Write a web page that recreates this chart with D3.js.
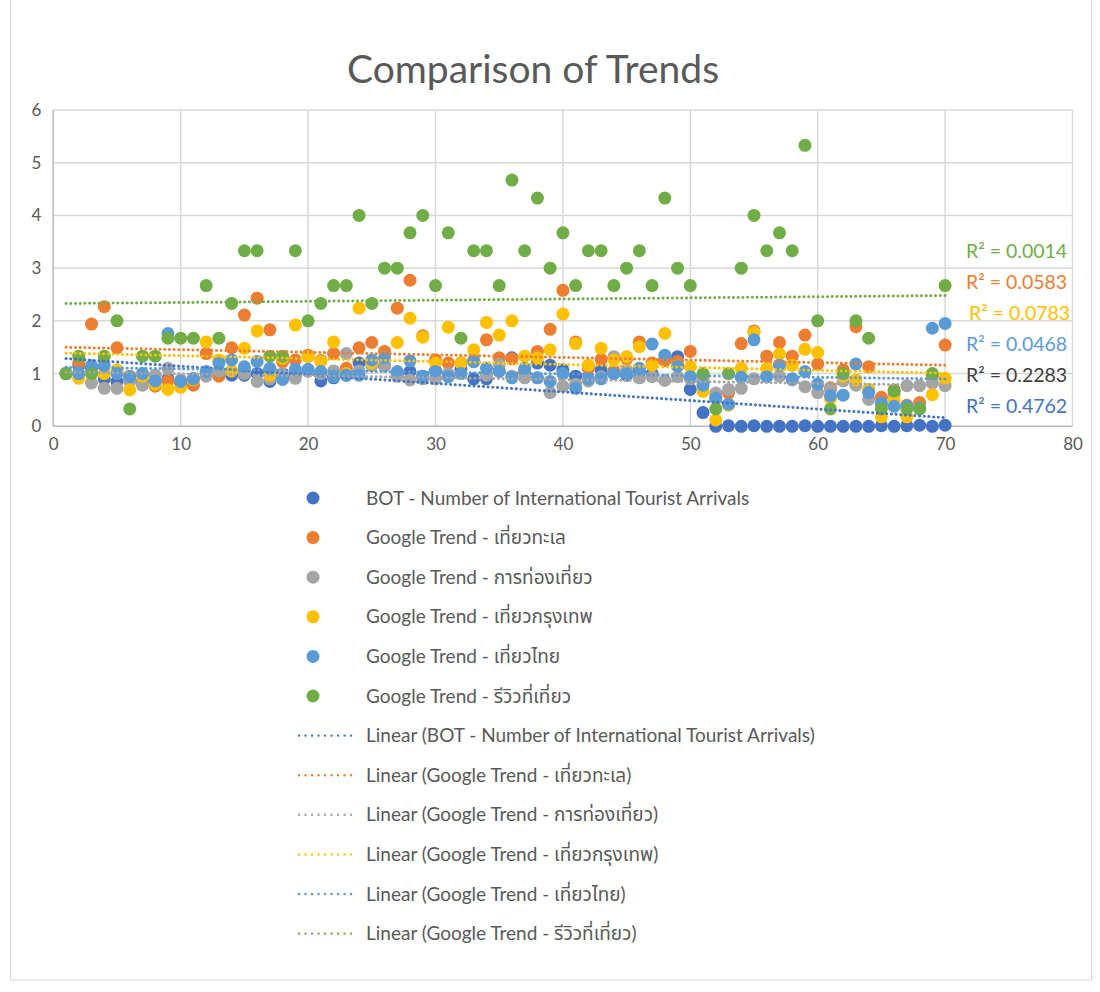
<!DOCTYPE html>
<html>
<head>
<meta charset="utf-8">
<script src="https://cdn.jsdelivr.net/npm/d3@7"></script>
<style>
  body { margin: 0; background: #fff; }
  svg { display: block; }
  text { font-family: Lato, "Noto Sans Thai", "Noto Sans", sans-serif; }
</style>
</head>
<body>
<svg id="chart" width="1100" height="992"></svg>
<script>
// ---- data ----
const chartTitle = "Comparison of Trends";
const xTickValues = [0, 10, 20, 30, 40, 50, 60, 70, 80];
const yTickValues = [0, 1, 2, 3, 4, 5, 6];
const periods = d3.range(1, 71);

const seriesLabels = [
  "BOT - Number of International Tourist Arrivals",
  "Google Trend - เที่ยวทะเล",
  "Google Trend - การท่องเที่ยว",
  "Google Trend - เที่ยวกรุงเทพ",
  "Google Trend - เที่ยวไทย",
  "Google Trend - รีวิวที่เที่ยว"
];
const seriesColors = ["#4472C4", "#ED7D31", "#A5A5A5", "#FFC000", "#5B9BD5", "#70AD47"];
const rSquaredText = ["R² = 0.4762", "R² = 0.0583", "R² = 0.2283", "R² = 0.0783", "R² = 0.0468", "R² = 0.0014"];

const botArrivals = [
  1.0, 1.15, 1.1, 0.9, 0.85, 0.87, 0.85, 0.85, 0.9, 0.85,
  0.9, 1.0, 1.0, 0.97, 0.97, 1.0, 0.85, 0.93, 1.0, 1.05,
  0.86, 0.92, 0.97, 1.2, 1.2, 1.15, 0.97, 1.04, 0.95, 1.05,
  0.95, 1.08, 0.9, 0.9, 1.05, 1.3, 1.02, 1.2, 1.16, 1.07,
  0.95, 1.13, 1.07, 1.0, 0.97, 1.05, 1.0, 1.25, 1.32, 0.7,
  0.26, 0.0, 0.01, 0.0, 0.01, 0.0, 0.0, 0.0, 0.01, 0.0,
  0.0, 0.0, 0.0, 0.0, 0.01, 0.0, 0.01, 0.02, 0.0, 0.02
];
const trendSea = [
  1.0, 1.2, 1.94, 2.27, 1.49, 0.95, 0.85, 0.76, 0.86, 0.8,
  0.78, 1.38, 0.95, 1.49, 2.11, 2.43, 1.83, 1.22, 1.26, 1.35,
  1.25, 1.38, 1.1, 1.49, 1.59, 1.42, 2.24, 2.77, 1.72, 1.26,
  1.2, 1.2, 1.25, 1.64, 1.3, 1.28, 1.05, 1.42, 1.84, 2.58,
  1.6, 1.1, 1.27, 1.05, 1.28, 1.6, 1.2, 1.25, 1.23, 1.42,
  0.95, 0.55, 0.63, 1.57, 1.81, 1.33, 1.59, 1.33, 1.73, 1.18,
  0.73, 1.07, 1.89, 1.13, 0.55, 0.69, 0.4, 0.45, 0.95, 1.54
];
const trendTourism = [
  1.0, 1.0, 0.82, 0.72, 0.72, 0.85, 0.78, 0.97, 1.1, 0.88,
  0.9, 0.95, 1.05, 1.05, 1.0, 0.85, 0.9, 1.0, 0.91, 1.05,
  1.0, 1.05, 1.38, 1.05, 1.15, 1.14, 0.95, 0.88, 0.9, 0.9,
  1.0, 1.2, 1.22, 0.97, 1.17, 0.95, 0.92, 0.92, 0.64, 0.76,
  0.8, 0.86, 0.94, 1.32, 1.07, 0.92, 0.94, 0.87, 0.94, 0.9,
  0.88, 0.63, 0.7, 0.72, 0.9, 0.95, 0.95, 0.88, 0.75, 0.64,
  0.69, 0.86, 0.78, 0.51, 0.4, 0.6, 0.77, 0.77, 0.82, 0.77
];
const trendBangkok = [
  1.0, 0.91, 1.0, 1.0, 1.07, 0.69, 0.95, 0.8, 0.7, 0.74,
  0.88, 1.6, 1.26, 1.05, 1.48, 1.81, 0.97, 1.29, 1.92, 1.32,
  1.23, 1.6, 1.0, 2.24, 1.2, 1.3, 1.59, 2.05, 1.69, 1.2,
  1.88, 1.2, 1.45, 1.97, 1.73, 2.0, 1.33, 1.3, 1.45, 2.13,
  1.57, 1.16, 1.48, 1.26, 1.32, 1.51, 1.16, 1.76, 1.15, 1.13,
  0.66, 0.12, 0.4, 1.1, 1.78, 1.1, 1.37, 1.16, 1.46, 1.4,
  0.53, 0.95, 0.88, 0.7, 0.18, 0.5, 0.18, 0.35, 0.6, 0.91
];
const trendThailand = [
  1.0, 1.0, 1.15, 1.15, 1.0, 0.94, 1.0, 0.86, 1.76, 0.85,
  0.9, 1.04, 1.2, 1.26, 1.13, 1.23, 1.1, 0.89, 1.08, 1.08,
  1.04, 0.94, 0.97, 0.97, 1.26, 1.3, 1.04, 1.24, 0.94, 1.04,
  0.94, 1.0, 1.23, 1.1, 1.04, 0.92, 1.1, 0.92, 0.85, 1.0,
  0.72, 0.9, 0.9, 1.0, 1.0, 1.1, 1.56, 1.35, 1.14, 0.94,
  0.78, 0.53, 0.42, 0.93, 1.64, 0.94, 1.16, 0.9, 1.04, 0.8,
  0.58, 0.59, 1.18, 0.64, 0.44, 0.38, 0.38, 0.35, 1.86, 1.95
];
const trendReview = [
  1.0, 1.33, 1.0, 1.33, 2.0, 0.33, 1.33, 1.33, 1.67, 1.67,
  1.67, 2.67, 1.67, 2.33, 3.33, 3.33, 1.33, 1.33, 3.33, 2.0,
  2.33, 2.67, 2.67, 4.0, 2.33, 3.0, 3.0, 3.67, 4.0, 2.67,
  3.67, 1.67, 3.33, 3.33, 2.67, 4.67, 3.33, 4.33, 3.0, 3.67,
  2.67, 3.33, 3.33, 2.67, 3.0, 3.33, 2.67, 4.33, 3.0, 2.67,
  1.0, 0.33, 1.0, 3.0, 4.0, 3.33, 3.67, 3.33, 5.33, 2.0,
  0.33, 1.0, 2.0, 1.67, 0.33, 0.67, 0.33, 0.33, 1.0, 2.67
];

const seriesValues = [botArrivals, trendSea, trendTourism, trendBangkok, trendThailand, trendReview];

// ---- layout ----
const svg = d3.select("#chart");
const plot = { left: 53.3, right: 1072.5, top: 110, bottom: 426.3 };
const textColor = "#595959";

const x = d3.scaleLinear().domain([0, 80]).range([plot.left, plot.right]);
const y = d3.scaleLinear().domain([0, 6]).range([plot.bottom, plot.top]);

svg.append("rect").attr("width", 1100).attr("height", 992).attr("fill", "#fff");
// chart frame
svg.append("rect")
  .attr("x", 10.5).attr("y", -2).attr("width", 1081).attr("height", 982)
  .attr("fill", "none").attr("stroke", "#d9d9d9").attr("stroke-width", 1);

// title
svg.append("text")
  .attr("x", 533).attr("y", 83)
  .attr("text-anchor", "middle")
  .attr("font-size", 39)
  .attr("fill", textColor)
  .text(chartTitle);

// gridlines
const grid = svg.append("g");
grid.selectAll("line.h").data(yTickValues).join("line")
  .attr("x1", plot.left).attr("x2", plot.right)
  .attr("y1", d => y(d)).attr("y2", d => y(d))
  .attr("stroke", "#d9d9d9").attr("stroke-width", 1.5);
grid.selectAll("line.v").data(xTickValues).join("line")
  .attr("x1", d => x(d)).attr("x2", d => x(d))
  .attr("y1", plot.top).attr("y2", plot.bottom)
  .attr("stroke", "#d9d9d9").attr("stroke-width", 1.5);
// axis lines
svg.append("line").attr("x1", plot.left).attr("x2", plot.right)
  .attr("y1", plot.bottom).attr("y2", plot.bottom)
  .attr("stroke", "#bfbfbf").attr("stroke-width", 1.5);
svg.append("line").attr("x1", plot.left).attr("x2", plot.left)
  .attr("y1", plot.top).attr("y2", plot.bottom)
  .attr("stroke", "#bfbfbf").attr("stroke-width", 1.5);

// axes tick labels via d3 axes
const xAxis = d3.axisBottom(x).tickValues(xTickValues).tickFormat(d3.format("d")).tickSize(0).tickPadding(12);
const yAxis = d3.axisLeft(y).tickValues(yTickValues).tickFormat(d3.format("d")).tickSize(0).tickPadding(12);
const gx = svg.append("g").attr("transform", `translate(0,${plot.bottom})`).call(xAxis);
const gy = svg.append("g").attr("transform", `translate(${plot.left},0)`).call(yAxis);
[gx, gy].forEach(g => {
  g.select(".domain").remove();
  g.selectAll("text").attr("font-size", 17).attr("fill", textColor)
    .attr("font-family", "Lato, sans-serif");
});

// scatter markers
const markerR = 6.5;
seriesValues.forEach((vals, i) => {
  svg.append("g").selectAll("circle")
    .data(periods.map((p, k) => [p, vals[k]]))
    .join("circle")
    .attr("cx", d => x(d[0]))
    .attr("cy", d => y(d[1]))
    .attr("r", markerR)
    .attr("fill", seriesColors[i]);
});

// linear trendlines (least squares)
function linearFit(xs, ys) {
  const n = xs.length;
  const mx = d3.mean(xs), my = d3.mean(ys);
  let sxy = 0, sxx = 0;
  for (let k = 0; k < n; k++) { sxy += (xs[k] - mx) * (ys[k] - my); sxx += (xs[k] - mx) ** 2; }
  const slope = sxy / sxx;
  return { slope, intercept: my - slope * mx };
}
const dotted = "0.1 4.6";
seriesValues.forEach((vals, i) => {
  const fit = linearFit(periods, vals);
  const x0 = d3.min(periods), x1 = d3.max(periods);
  svg.append("line")
    .attr("x1", x(x0)).attr("y1", y(fit.intercept + fit.slope * x0))
    .attr("x2", x(x1)).attr("y2", y(fit.intercept + fit.slope * x1))
    .attr("stroke", seriesColors[i])
    .attr("stroke-width", 3)
    .attr("stroke-linecap", "round")
    .attr("stroke-dasharray", dotted);
});

// R² labels, stacked at the right of the plot
const rOrder = [5, 1, 3, 4, 2, 0];
const rColors = ["#4472C4", "#ED7D31", "#404040", "#FFC000", "#5B9BD5", "#70AD47"];
rOrder.forEach((si, row) => {
  svg.append("text")
    .attr("x", si === 3 ? 969 : 966)
    .attr("y", 258 + row * 31)
    .attr("font-size", 19.5)
    .attr("fill", rColors[si])
    .text(rSquaredText[si]);
});

// legend
const legend = svg.append("g");
const legendTop = 498, legendStep = 39.6;
const legendFont = 19;
seriesLabels.forEach((lab, i) => {
  const cy = legendTop + i * legendStep;
  legend.append("circle").attr("cx", 313).attr("cy", cy).attr("r", 6.5).attr("fill", seriesColors[i]);
  legend.append("text").attr("x", 366).attr("y", cy + 6.5).attr("font-size", legendFont)
    .attr("fill", textColor).text(lab);
});
seriesLabels.forEach((lab, i) => {
  const cy = legendTop + (i + 6) * legendStep;
  legend.append("line")
    .attr("x1", 299).attr("x2", 357).attr("y1", cy).attr("y2", cy)
    .attr("stroke", seriesColors[i]).attr("stroke-width", 2.4)
    .attr("stroke-linecap", "round").attr("stroke-dasharray", "0.1 6.4");
  legend.append("text").attr("x", 366).attr("y", cy + 6.5).attr("font-size", legendFont)
    .attr("fill", textColor).text(`Linear (${lab})`);
});
</script>
</body>
</html>
